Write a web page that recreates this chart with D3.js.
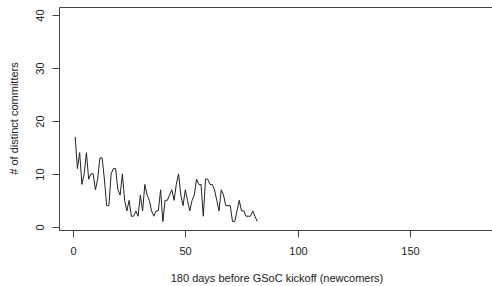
<!DOCTYPE html>
<html>
<head>
<meta charset="utf-8">
<script src="https://cdn.jsdelivr.net/npm/d3@7"></script>
<style>
  body { margin: 0; background: #fff; }
  text { font-family: "Liberation Sans", Arial, sans-serif; fill: #222; }
</style>
</head>
<body>
<svg id="chart"></svg>
<script>
var width = 492, height = 286;

// days before kickoff, distinct committers per day
var days = d3.range(1, 83);
var committers = [17, 11, 14, 8, 10, 14, 9, 10, 10, 7,
                  9, 13, 13, 9, 4, 4, 10, 11, 11, 7,
                  6, 10, 5, 3, 5, 2, 2, 3, 2, 6,
                  3, 8, 6, 5, 3, 2, 3, 3, 7, 1,
                  5, 5, 6, 7, 5, 8, 10, 6, 4, 7,
                  5, 3, 5, 6, 9, 8, 8, 2, 9, 9,
                  8, 8, 7, 5, 3, 7, 6, 4, 4, 4,
                  1, 1, 3, 5, 3, 3, 2, 2, 2, 3,
                  2, 1];
var xTicks = [0, 50, 100, 150];
var yTicks = [0, 10, 20, 30, 40];

var plot = {left: 59, right: 495, top: 7, bottom: 230};

var x = d3.scaleLinear()
    .domain([-6.2, 187.8])
    .range([plot.left, plot.right]);

var y = d3.scaleLinear()
    .domain([-0.6, 41.5])
    .range([plot.bottom, plot.top]);

var svg = d3.select("#chart")
    .attr("width", width)
    .attr("height", height);

// box (left, top, bottom; right side falls outside the window)
svg.append("path")
    .attr("fill", "none")
    .attr("stroke", "#444")
    .attr("stroke-width", 1)
    .attr("d", `M${plot.right},${plot.top + 0.5}H${plot.left + 0.5}V${plot.bottom + 0.5}H${plot.right}`);

// x axis ticks
var xAxis = svg.append("g")
    .attr("transform", `translate(0.5, ${plot.bottom + 0.5})`);
xAxis.selectAll("line")
    .data(xTicks)
    .join("line")
    .attr("x1", d => Math.round(x(d)))
    .attr("x2", d => Math.round(x(d)))
    .attr("y1", 0)
    .attr("y2", 7)
    .attr("stroke", "#444");
xAxis.selectAll("text")
    .data(xTicks)
    .join("text")
    .attr("x", d => Math.round(x(d)))
    .attr("y", 24)
    .attr("text-anchor", "middle")
    .attr("font-size", 11)
    .text(d => d);

// y axis ticks
var yAxis = svg.append("g")
    .attr("transform", `translate(${plot.left + 0.5}, 0.5)`);
yAxis.selectAll("line")
    .data(yTicks)
    .join("line")
    .attr("x1", -7)
    .attr("x2", 0)
    .attr("y1", d => Math.round(y(d)))
    .attr("y2", d => Math.round(y(d)))
    .attr("stroke", "#444");
yAxis.selectAll("text")
    .data(yTicks)
    .join("text")
    .attr("transform", d => `translate(-16, ${Math.round(y(d))}) rotate(-90)`)
    .attr("text-anchor", "middle")
    .attr("font-size", 11)
    .text(d => d);

// axis titles
svg.append("text")
    .attr("x", (plot.left + plot.right) / 2)
    .attr("y", 282)
    .attr("text-anchor", "middle")
    .attr("font-size", 11)
    .text("180 days before GSoC kickoff (newcomers)");

svg.append("text")
    .attr("transform", `translate(18, ${(plot.top + plot.bottom) / 2}) rotate(-90)`)
    .attr("text-anchor", "middle")
    .attr("font-size", 11)
    .text("# of distinct committers");

// the series
var line = d3.line()
    .x((d, i) => x(days[i]))
    .y(d => y(d));

svg.append("path")
    .datum(committers)
    .attr("fill", "none")
    .attr("stroke", "#222")
    .attr("stroke-width", 1)
    .attr("stroke-linejoin", "round")
    .attr("d", line);
</script>
</body>
</html>
